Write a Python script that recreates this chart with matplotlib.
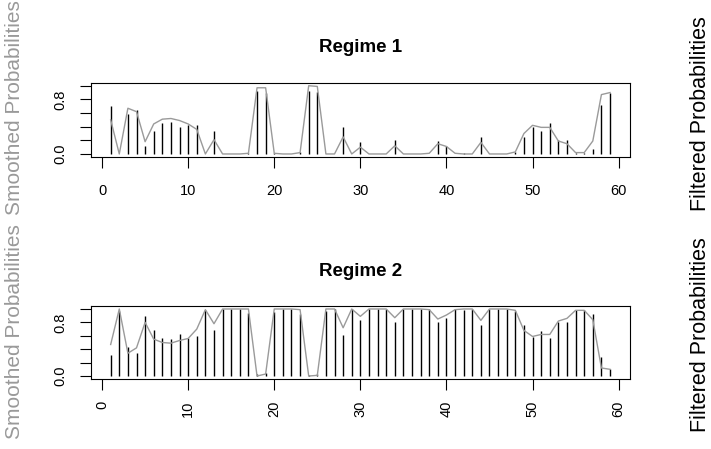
import numpy as np
import matplotlib
matplotlib.use("Agg")
import matplotlib.pyplot as plt

plt.rcParams['font.family'] = ['Liberation Sans', 'DejaVu Sans']

# time index
t = np.arange(1, 60)

# Regime 1: filtered (vertical bars) and smoothed (gray line)
filt1 = [0.70, 0.00, 0.58, 0.65, 0.12, 0.33, 0.45, 0.47, 0.39, 0.43,
         0.42, 0.00, 0.33, 0.00, 0.00, 0.00, 0.01, 0.92, 0.90, 0.02,
         0.00, 0.00, 0.03, 0.93, 0.91, 0.00, 0.00, 0.40, 0.00, 0.17,
         0.00, 0.00, 0.00, 0.21, 0.00, 0.00, 0.00, 0.00, 0.19, 0.12,
         0.00, 0.02, 0.00, 0.25, 0.00, 0.00, 0.00, 0.03, 0.25, 0.40,
         0.34, 0.45, 0.21, 0.21, 0.01, 0.01, 0.07, 0.72, 0.90]
smooth1 = [0.50, 0.00, 0.67, 0.62, 0.18, 0.44, 0.51, 0.52, 0.49, 0.44,
           0.36, 0.00, 0.21, 0.00, 0.00, 0.00, 0.01, 0.97, 0.97, 0.01,
           0.00, 0.00, 0.02, 1.00, 0.99, 0.00, 0.00, 0.25, 0.00, 0.10,
           0.00, 0.00, 0.00, 0.12, 0.00, 0.00, 0.00, 0.01, 0.15, 0.11,
           0.01, 0.00, 0.00, 0.17, 0.00, 0.00, 0.00, 0.03, 0.30, 0.42,
           0.39, 0.39, 0.19, 0.15, 0.02, 0.02, 0.19, 0.87, 0.90]

# Regime 2
filt2 = [0.31, 0.97, 0.43, 0.35, 0.90, 0.69, 0.56, 0.55, 0.63, 0.56,
         0.59, 0.99, 0.69, 1.00, 1.00, 1.00, 0.94, 0.03, 0.05, 0.95,
         1.00, 1.00, 0.93, 0.02, 0.03, 0.97, 1.00, 0.61, 1.00, 0.83,
         1.00, 1.00, 1.00, 0.80, 1.00, 1.00, 1.00, 1.00, 0.80, 0.87,
         1.00, 0.98, 1.00, 0.76, 1.00, 1.00, 1.00, 0.97, 0.76, 0.58,
         0.67, 0.57, 0.81, 0.81, 0.99, 0.99, 0.93, 0.28, 0.11]
smooth2 = [0.47, 1.00, 0.34, 0.42, 0.80, 0.55, 0.50, 0.49, 0.53, 0.56,
           0.70, 0.99, 0.78, 1.00, 1.00, 1.00, 1.00, 0.00, 0.03, 1.00,
           1.00, 1.00, 0.99, 0.00, 0.01, 1.00, 1.00, 0.72, 1.00, 0.89,
           1.00, 1.00, 1.00, 0.87, 1.00, 1.00, 1.00, 0.99, 0.85, 0.91,
           0.99, 1.00, 1.00, 0.83, 1.00, 1.00, 1.00, 0.98, 0.68, 0.59,
           0.62, 0.62, 0.82, 0.86, 0.98, 0.98, 0.84, 0.12, 0.10]

W, H = 711, 449
fig = plt.figure(figsize=(W / 100, H / 100), dpi=100)

def px(x0, y0, x1, y1):
    # pixel box (top-left origin) -> figure fraction rect
    return [x0 / W, 1 - y1 / H, (x1 - x0) / W, (y1 - y0) / H]

panels = [
    ("Regime 1", filt1, smooth1, px(90.7, 83.0, 630.0, 156.7), False),
    ("Regime 2", filt2, smooth2, px(90.7, 306.3, 630.0, 378.7), True),
]

for title, filt, smooth, rect, rot in panels:
    ax = fig.add_axes(rect)
    ax.vlines(t, 0, filt, color='black', linewidth=1.0)
    ax.plot(t, smooth, color='#9a9a9a', linewidth=1.0)
    ax.set_xlim(1 - 0.04 * 58, 59 + 0.04 * 58)
    ax.set_ylim(-0.04, 1.04)
    ax.set_xticks(np.arange(0, 61, 10))
    ax.set_yticks([0, 0.2, 0.4, 0.6, 0.8, 1.0])
    ax.set_yticklabels(['0.0', '', '', '', '0.8', ''], rotation=90, va='center')
    if rot:
        ax.set_xticklabels([str(v) for v in range(0, 61, 10)], rotation=90)
        ax.tick_params(axis='x', pad=8)
    else:
        ax.tick_params(axis='x', pad=12)
    ax.tick_params(direction='out', length=8, width=0.8, labelsize=10.5,
                   colors='black')
    ax.tick_params(axis='y', pad=9)
    for s in ax.spines.values():
        s.set_linewidth(0.8)
    ax.set_title(title, fontsize=13.5, fontweight='bold', pad=22)

# axis labels placed like the original
fig.text(15 / W, 1 - 108 / H, "Smoothed Probabilities", rotation=90,
         ha='center', va='center', color='#999999', fontsize=15)
fig.text(15 / W, 1 - 332 / H, "Smoothed Probabilities", rotation=90,
         ha='center', va='center', color='#999999', fontsize=15)
fig.text(701 / W, 1 - 114 / H, "Filtered Probabilities", rotation=90,
         ha='center', va='center', color='black', fontsize=15.5)
fig.text(701 / W, 1 - 335 / H, "Filtered Probabilities", rotation=90,
         ha='center', va='center', color='black', fontsize=15.5)

fig.savefig("out.png", dpi=100)
